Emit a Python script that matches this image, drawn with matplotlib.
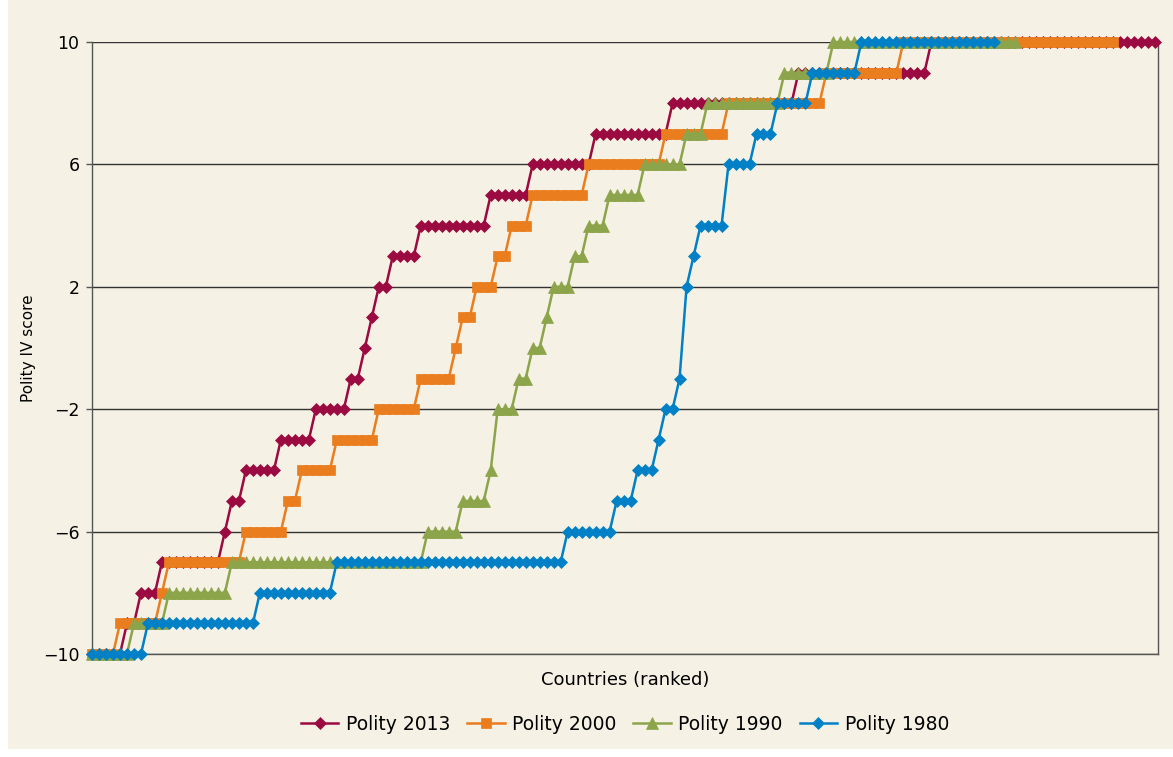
import numpy as np
import matplotlib
matplotlib.use("Agg")
import matplotlib.pyplot as plt
from matplotlib.patches import Rectangle

# score levels and how many countries sit at each level
levels_2013 = [-10, -9, -8, -7, -6, -5, -4, -3, -2, -1, 0, 1, 2, 3, 4, 5, 6, 7, 8, 9, 10]
counts_2013 = [5, 2, 3, 9, 1, 2, 5, 5, 5, 2, 1, 1, 2, 4, 10, 6, 9, 11, 18, 19, 33]

levels_2000 = [-10, -9, -8, -7, -6, -5, -4, -3, -2, -1, 0, 1, 2, 3, 4, 5, 6, 7, 8, 9, 10]
counts_2000 = [4, 6, 1, 11, 6, 2, 5, 6, 6, 5, 1, 2, 3, 2, 3, 8, 11, 9, 14, 11, 31]

levels_1990 = [-10, -9, -8, -7, -6, -5, -4, -2, -1, 0, 1, 2, 3, 4, 5, 6, 7, 8, 9, 10]
counts_1990 = [6, 5, 9, 28, 5, 4, 1, 3, 2, 2, 1, 3, 2, 3, 5, 6, 3, 11, 7, 27]

levels_1980 = [-10, -9, -8, -7, -6, -5, -4, -3, -2, -1, 2, 3, 4, 6, 7, 8, 9, 10]
counts_1980 = [8, 16, 11, 33, 7, 3, 3, 1, 2, 1, 1, 1, 4, 4, 3, 5, 7, 20]

y_ticks = [-10, -6, -2, 2, 6, 10]

bg = "#f5f1e4"
plt.rcParams["font.family"] = ["DejaVu Sans"]

fig = plt.figure(figsize=(11.73, 7.57), dpi=100)
fig.patch.set_facecolor("white")
fig.patches.append(Rectangle((8 / 1173, 8 / 757), 1, 1, transform=fig.transFigure,
                             facecolor=bg, edgecolor="none", zorder=-10))

ax = fig.add_axes([92 / 1173, 1 - 654 / 757, (1158 - 92) / 1173, (654 - 42) / 757])
ax.set_facecolor(bg)

series = [
    ("Polity 2013", levels_2013, counts_2013, "#9b0a40", "D", 6.0),
    ("Polity 2000", levels_2000, counts_2000, "#ea7d1e", "s", 7.0),
    ("Polity 1990", levels_1990, counts_1990, "#8ca44a", "^", 8.5),
    ("Polity 1980", levels_1980, counts_1980, "#0080c6", "D", 6.0),
]

for i, (name, lv, cn, col, mk, ms) in enumerate(series):
    y = np.repeat(lv, cn)
    x = np.arange(len(y))
    ax.plot(x, y, color=col, lw=1.8, marker=mk, ms=ms, mec=col, mfc=col,
            mew=0.5, label=name, clip_on=False, zorder=3 + i)

ax.set_xlim(0, 152.4)
ax.set_ylim(-10, 10)
ax.set_yticks(y_ticks)
ax.set_yticklabels([str(v).replace("-", "\u2212") for v in y_ticks])
ax.set_xticks([])
ax.grid(axis="y", color="#333333", lw=1)
ax.set_axisbelow(True)
for s in ax.spines.values():
    s.set_color("#555555")
    s.set_linewidth(1)
ax.spines["top"].set_visible(False)
ax.tick_params(axis="y", length=4, width=1, color="#555555", labelsize=12.5, pad=5)

ax.set_xlabel("Countries (ranked)", fontsize=13, labelpad=12)
ax.set_ylabel("Polity IV score", fontsize=11)
ax.yaxis.set_label_coords(-0.053, 0.5)

ax.legend(loc="upper center", bbox_to_anchor=(0.5, -0.072), ncol=4, frameon=False,
          fontsize=13.5, handlelength=2.0, columnspacing=0.9, handletextpad=0.4)

fig.savefig("out.png", dpi=100, facecolor=fig.get_facecolor())
